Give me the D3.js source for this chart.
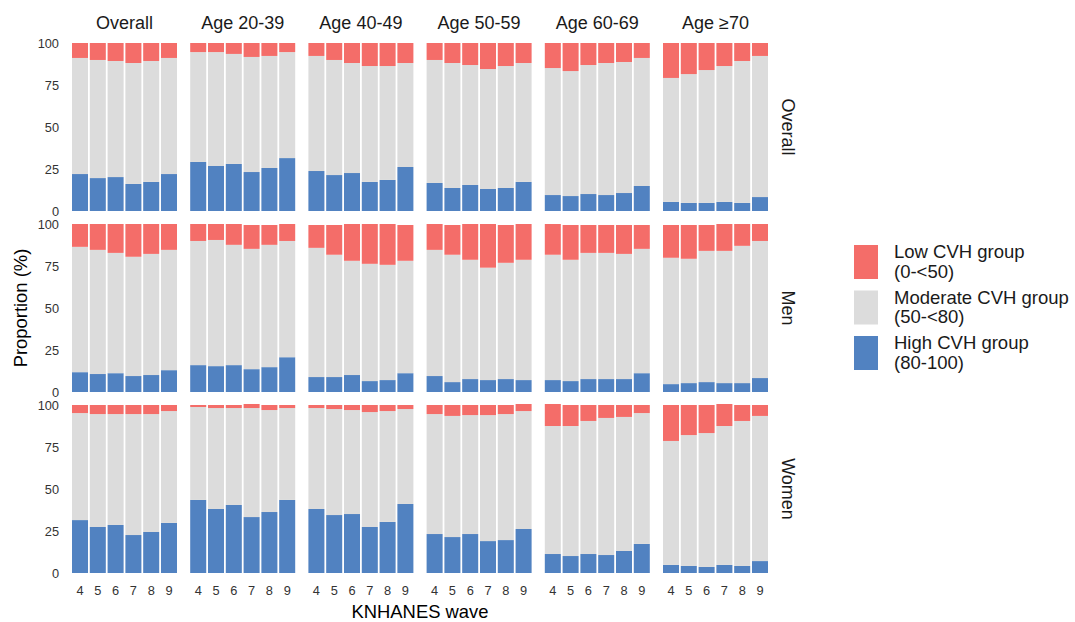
<!DOCTYPE html>
<html>
<head>
<meta charset="utf-8">
<script src="https://cdn.jsdelivr.net/npm/d3@7"></script>
<style>
  body { margin: 0; background: #fff; }
  svg { font-family: "Liberation Sans", Arial, sans-serif; }
  .tick text { fill: #333; }
</style>
</head>
<body>
<div id="chart"></div>
<script>
const waves = ["4", "5", "6", "7", "8", "9"];
const ageGroups = ["Overall", "Age 20-39", "Age 40-49", "Age 50-59", "Age 60-69", "Age \u226570"];
const sexGroups = ["Overall", "Men", "Women"];
const yTicks = [0, 25, 50, 75, 100];

// one row per age group, values per wave (%)
const highOverall = [
  [22.0, 19.6, 20.2, 16.1, 17.3, 22.0],
  [29.2, 26.8, 28.0, 23.2, 25.6, 31.5],
  [23.8, 21.4, 22.6, 17.3, 18.5, 26.2],
  [16.7, 13.7, 15.5, 13.1, 13.7, 17.3],
  [9.5, 8.9, 10.1, 9.5, 10.7, 14.9],
  [5.4, 4.8, 4.8, 5.4, 4.8, 8.3]
];
const moderateOverall = [
  [69.1, 70.3, 69.1, 72.0, 72.0, 69.1],
  [65.4, 67.8, 65.5, 68.5, 66.7, 63.1],
  [68.5, 68.5, 65.5, 69.0, 67.8, 61.9],
  [73.2, 74.4, 71.4, 71.4, 72.6, 70.8],
  [75.6, 74.4, 76.8, 78.6, 78.0, 76.2],
  [73.8, 76.7, 79.1, 80.9, 84.5, 84.0]
];
const lowOverall = [
  [8.9, 10.1, 10.7, 11.9, 10.7, 8.9],
  [5.4, 5.4, 6.5, 8.3, 7.7, 5.4],
  [7.7, 10.1, 11.9, 13.7, 13.7, 11.9],
  [10.1, 11.9, 13.1, 15.5, 13.7, 11.9],
  [14.9, 16.7, 13.1, 11.9, 11.3, 8.9],
  [20.8, 18.5, 16.1, 13.7, 10.7, 7.7]
];

const highMen = [
  [11.8, 10.7, 11.2, 9.5, 10.1, 13.0],
  [16.0, 15.4, 16.0, 13.6, 14.8, 20.7],
  [8.9, 8.9, 10.1, 6.5, 7.1, 11.2],
  [9.5, 5.9, 7.7, 7.1, 7.7, 7.1],
  [7.1, 6.5, 7.7, 7.7, 7.7, 11.2],
  [4.7, 5.3, 5.9, 5.3, 5.3, 8.3]
];
const moderateMen = [
  [74.6, 73.9, 71.6, 71.0, 72.1, 71.6],
  [73.9, 75.1, 71.6, 71.6, 72.8, 69.2],
  [76.9, 72.8, 68.0, 69.8, 68.6, 66.9],
  [75.1, 75.8, 71.0, 66.9, 69.2, 71.6],
  [74.6, 72.2, 75.1, 75.1, 74.5, 74.0],
  [75.2, 74.0, 78.1, 78.7, 81.7, 81.6]
];
const lowMen = [
  [13.6, 15.4, 17.2, 19.5, 17.8, 15.4],
  [10.1, 9.5, 12.4, 14.2, 11.8, 10.1],
  [13.6, 17.7, 21.9, 23.7, 24.3, 21.3],
  [15.4, 17.7, 21.3, 26.0, 22.5, 21.3],
  [18.3, 20.7, 16.6, 16.6, 17.2, 14.2],
  [19.5, 20.1, 15.4, 16.0, 13.0, 10.1]
];

const highWomen = [
  [31.5, 27.4, 28.6, 22.6, 24.4, 29.8],
  [43.5, 38.1, 40.5, 33.3, 36.3, 43.5],
  [38.1, 34.5, 35.1, 27.4, 30.4, 41.1],
  [23.2, 21.4, 23.2, 19.0, 19.6, 26.2],
  [11.3, 10.1, 11.3, 10.7, 13.1, 17.3],
  [4.8, 4.2, 3.6, 4.8, 4.2, 7.1]
];
const moderateWomen = [
  [63.7, 67.2, 66.0, 72.0, 70.2, 66.6],
  [55.3, 60.1, 57.7, 64.9, 60.7, 54.7],
  [60.1, 63.1, 61.9, 68.4, 66.0, 56.5],
  [71.4, 72.1, 70.8, 75.0, 75.0, 70.2],
  [76.2, 77.4, 79.2, 81.6, 79.8, 77.9],
  [73.8, 77.9, 79.7, 82.7, 86.3, 86.4]
];
const lowWomen = [
  [4.8, 5.4, 5.4, 5.4, 5.4, 3.6],
  [1.2, 1.8, 1.8, 2.4, 3.0, 1.8],
  [1.8, 2.4, 3.0, 4.2, 3.6, 2.4],
  [5.4, 6.5, 6.0, 6.0, 5.4, 4.2],
  [13.1, 12.5, 9.5, 7.7, 7.1, 4.8],
  [21.4, 17.9, 16.7, 13.1, 9.5, 6.5]
];

const seriesKeys = ["high", "moderate", "low"];
const legendLabels = [
  ["Low CVH group", "(0-<50)"],
  ["Moderate CVH group", "(50-<80)"],
  ["High CVH group", "(80-100)"]
];
const colors = { low: "#f46d69", moderate: "#dcdcdc", high: "#5182c1" };

const tables = [
  [highOverall, moderateOverall, lowOverall],
  [highMen, moderateMen, lowMen],
  [highWomen, moderateWomen, lowWomen]
];

const width = 1075, height = 622;
const marginLeft = 72, marginTop = 43;
const panelW = 105, panelH = 168;
const gapX = 13.2, gapY = 13;

const svg = d3.select("#chart").append("svg")
  .attr("width", width).attr("height", height);

const x = d3.scaleBand().domain(waves).range([0, panelW]).paddingInner(0.1).paddingOuter(0);
const y = d3.scaleLinear().domain([0, 100]).range([panelH, 0]);
const stack = d3.stack().keys(seriesKeys);

sexGroups.forEach((sex, r) => {
  const [hi, mo, lo] = tables[r];
  ageGroups.forEach((age, c) => {
    const rows = waves.map((w, i) => ({ wave: w, high: hi[c][i], moderate: mo[c][i], low: lo[c][i] }));
    const g = svg.append("g")
      .attr("transform", `translate(${marginLeft + c * (panelW + gapX)},${marginTop + r * (panelH + gapY)})`);

    g.selectAll("g.layer")
      .data(stack(rows))
      .join("g")
      .attr("class", "layer")
      .attr("fill", (d) => colors[d.key])
      .selectAll("rect")
      .data((d) => d)
      .join("rect")
      .attr("x", (d) => x(d.data.wave))
      .attr("width", x.bandwidth())
      .attr("y", (d) => y(d[1]))
      .attr("height", (d) => y(d[0]) - y(d[1]));

    if (c === 0) {
      g.append("g")
        .call(d3.axisLeft(y).tickValues(yTicks).tickSize(0).tickPadding(13))
        .call((a) => a.select(".domain").remove())
        .selectAll("text").attr("font-size", 12.8);
    }
    if (r === sexGroups.length - 1) {
      g.append("g")
        .attr("transform", `translate(0,${panelH})`)
        .call(d3.axisBottom(x).tickSize(0).tickPadding(13))
        .call((a) => a.select(".domain").remove())
        .selectAll("text").attr("font-size", 12.8);
    }
    if (r === 0) {
      g.append("text")
        .attr("x", panelW / 2).attr("y", -14)
        .attr("text-anchor", "middle")
        .attr("font-size", 18).attr("fill", "#1a1a1a")
        .text(age);
    }
    if (c === ageGroups.length - 1) {
      g.append("text")
        .attr("transform", `translate(${panelW + 14},${panelH / 2}) rotate(90)`)
        .attr("text-anchor", "middle")
        .attr("font-size", 18).attr("fill", "#1a1a1a")
        .text(sex);
    }
  });
});

const gridW = ageGroups.length * panelW + (ageGroups.length - 1) * gapX;
const gridH = sexGroups.length * panelH + (sexGroups.length - 1) * gapY;

svg.append("text")
  .attr("x", marginLeft + gridW / 2).attr("y", 618)
  .attr("text-anchor", "middle").attr("font-size", 18.4)
  .text("KNHANES wave");

svg.append("text")
  .attr("transform", `translate(27,${marginTop + gridH / 2}) rotate(-90)`)
  .attr("text-anchor", "middle").attr("font-size", 18.4)
  .text("Proportion (%)");

const legend = svg.append("g").attr("transform", "translate(854,245)");
["low", "moderate", "high"].forEach((k, i) => {
  const item = legend.append("g").attr("transform", `translate(0,${i * 45.5})`);
  item.append("rect").attr("width", 24).attr("height", 34).attr("fill", colors[k]);
  item.append("text")
    .attr("x", 40).attr("y", 13)
    .attr("font-size", 18.5).attr("fill", "#1a1a1a")
    .selectAll("tspan")
    .data(legendLabels[i])
    .join("tspan")
    .attr("x", 40)
    .attr("dy", (d, j) => (j === 0 ? 0 : 19.5))
    .text((d) => d);
});
</script>
</body>
</html>
